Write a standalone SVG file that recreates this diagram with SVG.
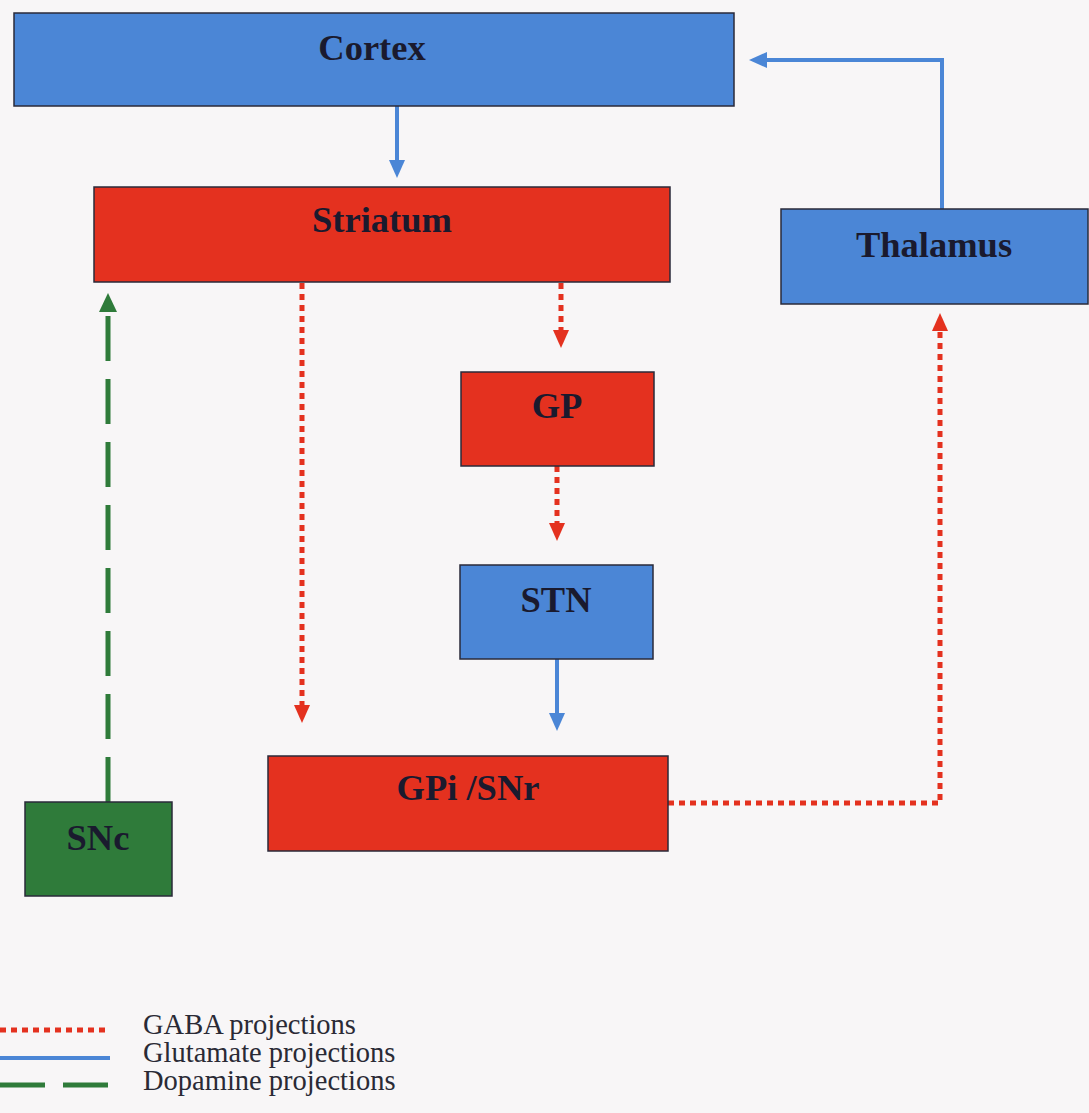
<svg xmlns="http://www.w3.org/2000/svg" width="1089" height="1113" viewBox="0 0 1089 1113">
<style>
.box{stroke:#2a2a3a;stroke-width:1.5}
.blue{fill:#4b86d6}
.red{fill:#e4311f}
.green{fill:#2f7b3a}
.lbl{font-family:"Liberation Serif","Times New Roman",serif;font-weight:bold;font-size:36.5px;fill:#1a1a2e;text-anchor:middle}
.leg{font-family:"Liberation Serif","Times New Roman",serif;font-size:28.5px;fill:#2a2a35}
.glu{fill:none;stroke:#4b86d6;stroke-width:4}
.gaba{fill:none;stroke:#e4311f;stroke-width:5;stroke-dasharray:6 5}
.dopa{fill:none;stroke:#2f7b3a;stroke-width:5;stroke-dasharray:45 18}
</style>
<defs>
<marker id="hb" markerUnits="userSpaceOnUse" markerWidth="20" markerHeight="18" refX="0" refY="8" orient="auto" overflow="visible"><path d="M0,0 L18,8 L0,16 z" fill="#4b86d6"/></marker>
<marker id="hr" markerUnits="userSpaceOnUse" markerWidth="20" markerHeight="18" refX="0" refY="8" orient="auto" overflow="visible"><path d="M0,0 L18,8 L0,16 z" fill="#e4311f"/></marker>
<marker id="hg" markerUnits="userSpaceOnUse" markerWidth="20" markerHeight="18" refX="0" refY="9" orient="auto" overflow="visible"><path d="M0,0 L19,9 L0,18 z" fill="#2f7b3a"/></marker>
</defs>
<rect width="1089" height="1113" fill="#f8f6f7"/>
<g id="connectors">
<path class="glu" d="M397,106 V160" marker-end="url(#hb)"/>
<path class="glu" d="M942,209 V60 H767" marker-end="url(#hb)"/>
<path class="gaba" d="M302,283 V705" marker-end="url(#hr)"/>
<path class="gaba" d="M561,283 V330" marker-end="url(#hr)"/>
<path class="gaba" d="M557,466 V523" marker-end="url(#hr)"/>
<path class="glu" d="M557,659 V713" marker-end="url(#hb)"/>
<path class="gaba" d="M668,803 H940 V331" marker-end="url(#hr)"/>
<path class="dopa" d="M108,802 V312" marker-end="url(#hg)"/>
</g>
<g id="cortex"><rect class="box blue" x="14" y="13" width="720" height="93"/><text class="lbl" x="372" y="60">Cortex</text></g>
<g id="striatum"><rect class="box red" x="94" y="187" width="576" height="95"/><text class="lbl" x="382" y="232">Striatum</text></g>
<g id="thalamus"><rect class="box blue" x="781" y="209" width="307" height="95"/><text class="lbl" x="934" y="257">Thalamus</text></g>
<g id="gp"><rect class="box red" x="461" y="372" width="193" height="94"/><text class="lbl" x="557" y="418">GP</text></g>
<g id="stn"><rect class="box blue" x="460" y="565" width="193" height="94"/><text class="lbl" x="556" y="612">STN</text></g>
<g id="gpi-snr"><rect class="box red" x="268" y="756" width="400" height="95"/><text class="lbl" x="468" y="800">GPi /SNr</text></g>
<g id="snc"><rect class="box green" x="25" y="802" width="147" height="94"/><text class="lbl" x="98" y="850">SNc</text></g>
<g id="legend">
<line class="gaba" x1="0" y1="1030" x2="110" y2="1030"/>
<line class="glu" x1="0" y1="1058" x2="110" y2="1058"/>
<line class="dopa" x1="0" y1="1085" x2="110" y2="1085"/>
<text class="leg" x="143" y="1034">GABA projections</text>
<text class="leg" x="143" y="1062">Glutamate projections</text>
<text class="leg" x="143" y="1090">Dopamine projections</text>
</g>
</svg>
